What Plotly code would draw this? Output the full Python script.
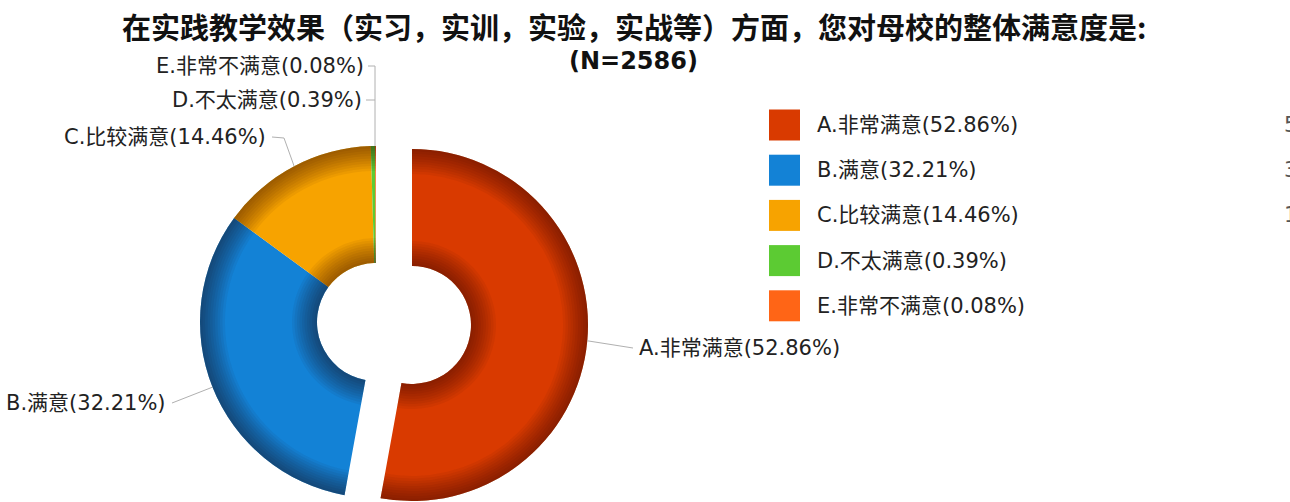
import math
import plotly.graph_objects as go

W, H = 1290, 502

# ---- data ----
title_line1 = "在实践教学效果（实习，实训，实验，实战等）方面，您对母校的整体满意度是:"
title_line2 = "(N=2586)"
categories = ["A.非常满意", "B.满意", "C.比较满意", "D.不太满意", "E.非常不满意"]
percents = [52.86, 32.21, 14.46, 0.39, 0.08]
colors = ["#D93A00", "#1382D6", "#F7A300", "#5CCB33", "#FF6516"]
pulled = [True, False, False, False, False]

labels = [f"{c}({p:.2f}%)" for c, p in zip(categories, percents)]

# ---- geometry (pixels) ----
CX, CY = 376, 322          # centre of ring
R_OUT, R_IN = 176, 59
PULL_DX, PULL_DY = 36, 3   # offset of the exploded slice

FONT = "DejaVu Sans, Noto Sans CJK SC, sans-serif"
FS = 21
TXT = "#222222"
LINE = "#B0B0B0"


def px(x):
    return x / W


def py(y):
    return 1 - y / H


fig = go.Figure()


def add_ring(cx, cy, r_out, r_in, slice_colors):
    fig.add_trace(go.Pie(
        labels=categories, values=percents, sort=False,
        direction="clockwise", rotation=0,
        hole=r_in / r_out,
        marker=dict(colors=slice_colors, line=dict(width=0)),
        textinfo="none", hoverinfo="skip", showlegend=False,
        domain=dict(x=[px(cx - r_out), px(cx + r_out)],
                    y=[max(0, py(cy + r_out)), py(cy - r_out)]),
    ))


def masked(cols, keep):
    return [c if k else "rgba(0,0,0,0)" for c, k in zip(cols, keep)]


not_pulled = [not p for p in pulled]
parts = [(0, 0, not_pulled), (PULL_DX, PULL_DY, pulled)]

# base ring: non-exploded slices and exploded slice
for dx, dy, keep in parts:
    add_ring(CX + dx, CY + dy, R_OUT, R_IN, masked(colors, keep))

# shading layers (3D look): darker toward outer and inner edges
shade = "rgba(40,0,0,0.05)"
for k in range(1, 11):
    r_in_k = R_OUT - 2.5 * k
    for dx, dy, keep in parts:
        add_ring(CX + dx, CY + dy, R_OUT, r_in_k, masked([shade] * 5, keep))
for k in range(1, 11):
    r_out_k = R_IN + 2.5 * k
    for dx, dy, keep in parts:
        add_ring(CX + dx, CY + dy, r_out_k, R_IN, masked([shade] * 5, keep))

# ---- slice labels with leader lines ----
cum = 0.0
mid_pts = []
for p, pl in zip(percents, pulled):
    ang = (cum + p / 2) / 100 * 2 * math.pi
    cx = CX + (PULL_DX if pl else 0)
    cy = CY + (PULL_DY if pl else 0)
    mid_pts.append((cx + R_OUT * math.sin(ang), cy - R_OUT * math.cos(ang)))
    cum += p

# label anchor positions (px): (x, y, xanchor)
label_pos = [
    (637, 348, "left"),
    (168, 403, "right"),
    (268, 137, "right"),
    (364, 100, "right"),
    (366, 66, "right"),
]

shapes = []
annotations = []
for i, (lab, (lx, ly, xa)) in enumerate(zip(labels, label_pos)):
    annotations.append(dict(
        x=px(lx), y=py(ly), xref="paper", yref="paper", text=lab,
        showarrow=False, xanchor=xa, yanchor="middle",
        font=dict(family=FONT, size=FS, color=TXT)))


def seg(points):
    d = "M" + " L".join(f"{px(x)},{py(y)}" for x, y in points)
    return dict(type="path", xref="paper", yref="paper", path=d,
                line=dict(color=LINE, width=1))


shapes.append(seg([mid_pts[0], (633, 348)]))
shapes.append(seg([mid_pts[1], (172, 403)]))
shapes.append(seg([(272, 137), (284, 138), mid_pts[2]]))
top_x = CX - 1
shapes.append(seg([(368, 66), (top_x, 66), (top_x, CY - R_OUT)]))
shapes.append(seg([(366, 100), (top_x, 100)]))

# ---- custom legend ----
LEG_X, LEG_Y0, LEG_DY, SQ = 769, 125, 45.2, 31
for i, (lab, col) in enumerate(zip(labels, colors)):
    yc = LEG_Y0 + i * LEG_DY
    shapes.append(dict(type="rect", xref="paper", yref="paper",
                       x0=px(LEG_X), x1=px(LEG_X + SQ),
                       y0=py(yc + SQ / 2), y1=py(yc - SQ / 2),
                       fillcolor=col, line=dict(width=0)))
    annotations.append(dict(
        x=px(LEG_X + 46), y=py(yc), xref="paper", yref="paper", text=lab,
        showarrow=False, xanchor="left", yanchor="middle",
        font=dict(family=FONT, size=FS, color=TXT)))
    # value column (cut off at the right edge in the reference)
    annotations.append(dict(
        x=px(1282), y=py(yc), xref="paper", yref="paper",
        text=f"{percents[i]:.2f}%", showarrow=False,
        xanchor="left", yanchor="middle",
        font=dict(family=FONT, size=FS, color="#555555"),
        visible=percents[i] >= 1))

# ---- title ----
annotations.append(dict(x=px(634), y=py(26), xref="paper", yref="paper",
                        text=f"<b>{title_line1}</b>", showarrow=False,
                        xanchor="center", yanchor="middle",
                        font=dict(family="Noto Sans CJK SC", size=29, color="#111111")))
annotations.append(dict(x=px(633), y=py(61), xref="paper", yref="paper",
                        text=f"<b>{title_line2}</b>", showarrow=False,
                        xanchor="center", yanchor="middle",
                        font=dict(family="DejaVu Sans, Noto Sans CJK SC", size=24, color="#111111")))

fig.update_layout(
    width=W, height=H,
    margin=dict(l=0, r=0, t=0, b=0),
    paper_bgcolor="white", plot_bgcolor="white",
    showlegend=False,
    shapes=shapes, annotations=annotations,
)

fig.write_html("out.html",
               config={"displayModeBar": False},
               post_script="document.body.style.margin='0';document.body.style.overflow='hidden';")
